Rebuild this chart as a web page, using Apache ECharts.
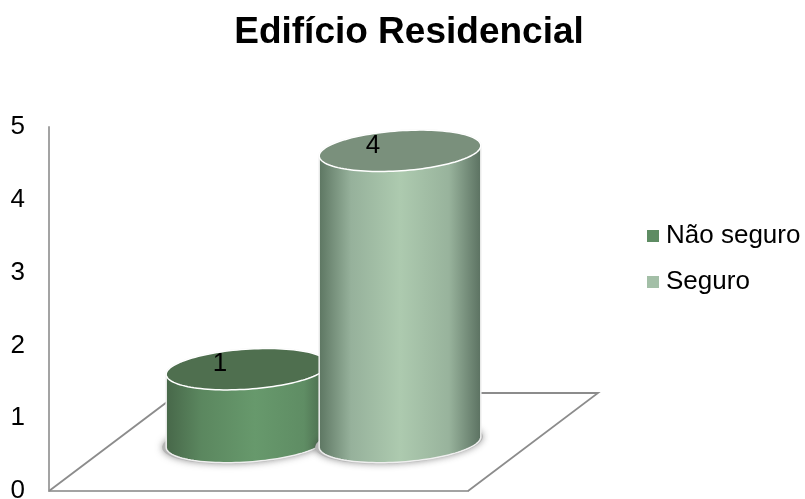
<!DOCTYPE html>
<html>
<head>
<meta charset="utf-8">
<style>html,body{margin:0;padding:0;background:#fff}#c{width:805px;height:499px}</style>
<script src="https://cdn.jsdelivr.net/npm/echarts@6/dist/echarts.min.js"></script>
</head>
<body>
<div id="c"></div>
<script>
const chartTitle = "Edifício Residencial";
const categories = ["Edifício Residencial"];
const naoSeguro = [1];
const seguro = [4];
const seriesNames = ["Não seguro", "Seguro"];
const yMin = 0, yMax = 5, yStep = 1;

const FONT = '"Liberation Sans", Arial, sans-serif';
const DEPTH_X = 130, DEPTH_Y = -98;
const TILT = -3.9 * Math.PI / 180;
const BAR_FRAC = 162 / 419, STEP_FRAC = 153 / 419, RY = 20;

function ept(cx, cy, a, b, t) {
  const ca = Math.cos(t) * a, sb = Math.sin(t) * b;
  return [cx + ca * Math.cos(TILT) - sb * Math.sin(TILT),
          cy + ca * Math.sin(TILT) + sb * Math.cos(TILT)];
}
function arc(cx, cy, a, b, t0, t1, n) {
  const out = [];
  for (let i = 0; i <= n; i++) out.push(ept(cx, cy, a, b, t0 + (t1 - t0) * i / n));
  return out;
}
function grad(stops) {
  return new echarts.graphic.LinearGradient(0, 0, 1, 0,
    stops.map(s => ({ offset: s[0], color: s[1] })));
}
function cylinder(slot, sideStops, topColor) {
  return function (params, api) {
    const band = api.size([1, 0])[0];
    const base = api.coord([api.value(0), 0]);
    const top = api.coord([api.value(0), api.value(1)]);
    const a = band * BAR_FRAC / 2;
    const cx = base[0] + DEPTH_X / 2 + slot * band * STEP_FRAC / 2;
    const by = base[1] + DEPTH_Y / 2;
    const ty = top[1] + DEPTH_Y / 2;
    const body = arc(cx, by, a, RY, 0, Math.PI, 60)
      .concat(arc(cx, ty, a, RY, Math.PI, 2 * Math.PI, 60));
    return {
      type: 'group',
      children: [
        { type: 'polygon', shape: { points: arc(cx - 1, by, a + 3, RY + 1, 0, 2 * Math.PI, 90) },
          style: { fill: '#b5b5b5', shadowBlur: 7, shadowColor: 'rgba(60,60,60,0.55)' } },
        { type: 'polygon', shape: { points: body },
          style: { fill: grad(sideStops), stroke: '#efefef', lineWidth: 1.5 } },
        { type: 'polygon', shape: { points: arc(cx, ty, a, RY, 0, 2 * Math.PI, 120) },
          style: { fill: topColor, stroke: '#ffffff', lineWidth: 1.5 } },
        { type: 'text', x: cx - 27, y: ty - 5,
          style: { text: String(api.value(1)), fill: '#000', font: '26px ' + FONT,
                   align: 'center', verticalAlign: 'middle' } }
      ]
    };
  };
}
function floor(params, api) {
  const band = api.size([1, 0])[0];
  const c = api.coord([api.value(0), 0]);
  const l = [c[0] - band / 2, c[1]], r = [c[0] + band / 2, c[1]];
  const br = [r[0] + DEPTH_X, r[1] + DEPTH_Y], bl = [l[0] + DEPTH_X, l[1] + DEPTH_Y];
  return { type: 'polyline', shape: { points: [l, bl, br, r] },
    style: { fill: 'none', stroke: '#8c8c8c', lineWidth: 1.8 } };
}

const chart = echarts.init(document.getElementById('c'), null, { renderer: 'canvas' });
chart.setOption({
  animation: false,
  backgroundColor: '#fff',
  title: { text: chartTitle, left: 404, top: 9, textAlign: 'center',
    textStyle: { fontFamily: FONT, fontSize: 37, fontWeight: 'bold', color: '#000' } },
  legend: {
    data: seriesNames, orient: 'vertical', left: 642, top: 218, itemWidth: 12, itemHeight: 12,
    itemGap: 20, icon: 'rect',
    textStyle: { fontFamily: FONT, fontSize: 26, color: '#000', padding: [3, 0, 0, 2] }
  },
  grid: { left: 49, top: 127, width: 419, height: 364, outerBoundsMode: 'none' },
  xAxis: { type: 'category', data: categories,
    axisLine: { lineStyle: { color: '#a3a3a3', width: 2 } },
    axisTick: { show: false }, axisLabel: { show: false }, splitLine: { show: false } },
  yAxis: { type: 'value', min: yMin, max: yMax, interval: yStep,
    axisLine: { show: true, lineStyle: { color: '#a3a3a3', width: 2 } },
    axisTick: { show: false }, splitLine: { show: false },
    axisLabel: { margin: 24, color: '#000', fontFamily: FONT, fontSize: 26, padding: [3, 0, 0, 0] } },
  series: [
    { type: 'custom', name: 'floor', renderItem: floor, silent: true, clip: false,
      data: categories.map((c, i) => [i, 0]), encode: { x: 0, y: 1 }, z: 1 },
    { type: 'custom', name: seriesNames[0], clip: false, z: 2,
      itemStyle: { color: '#5e8c63' },
      renderItem: cylinder(-1, [[0, '#476749'], [0.22, '#5b875f'], [0.55, '#67996c'], [0.85, '#5f8d64'], [1, '#466448']], '#4f6f4f'),
      data: naoSeguro.map((v, i) => [i, v]), encode: { x: 0, y: 1 } },
    { type: 'custom', name: seriesNames[1], clip: false, z: 3,
      itemStyle: { color: '#a3bfa7' },
      renderItem: cylinder(1, [[0, '#5c7561'], [0.2, '#96b19b'], [0.5, '#adcaaf'], [0.8, '#98b39c'], [1, '#5a7060']], '#7a907c'),
      data: seguro.map((v, i) => [i, v]), encode: { x: 0, y: 1 } }
  ]
});
</script>
</body>
</html>
